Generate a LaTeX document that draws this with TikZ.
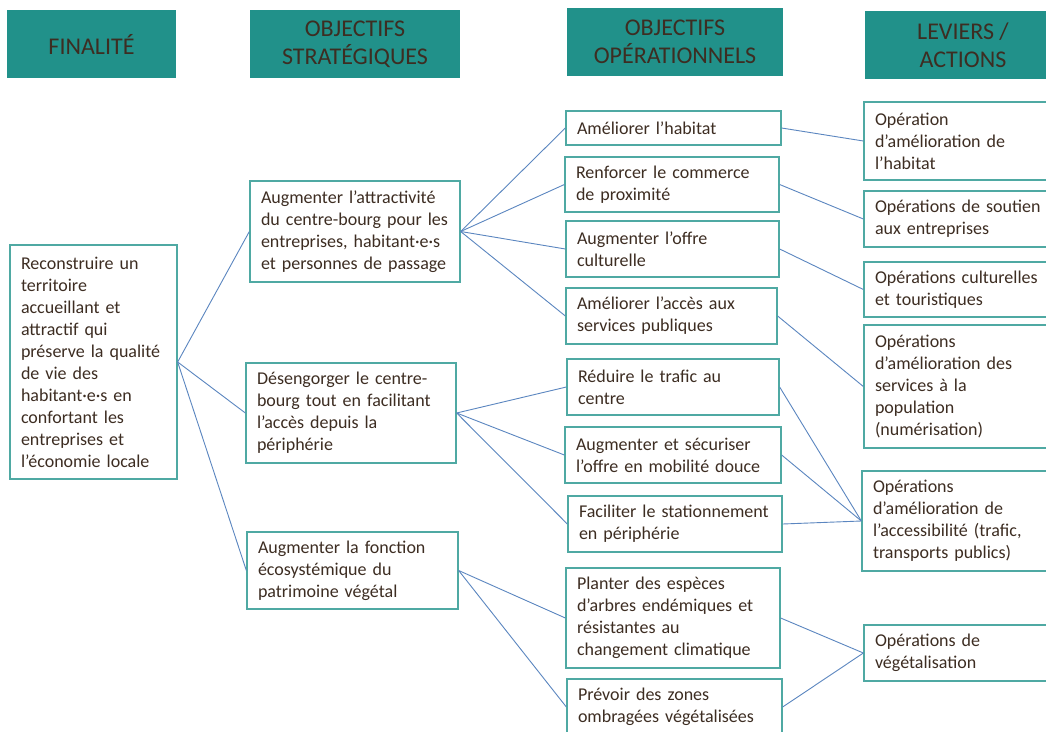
\documentclass[tikz,border=0pt]{standalone}
\usepackage{fontspec}
\setmainfont{Carlito}
\definecolor{headteal}{HTML}{21918A}
\definecolor{boxteal}{HTML}{4FA9A3}
\definecolor{linkblue}{HTML}{5B86C0}
\definecolor{txtbrown}{HTML}{3D2D22}
\begin{document}
\begin{tikzpicture}[x=1pt,y=-1pt,
head/.style={fill=headteal,text=txtbrown,align=center,inner sep=0pt,
  font=\fontsize{24}{28}\selectfont},
item/.style={draw=boxteal,line width=1.3pt,fill=white,text=txtbrown,align=left,
  inner xsep=11pt,inner ysep=0pt,font=\fontsize{18}{22}\selectfont},
link/.style={draw=linkblue,line width=0.9pt}]
\path[use as bounding box,fill=white] (0,0) rectangle (1046,731);

% column headers
\node[head,minimum width=169pt,minimum height=68pt] (hfin) at (91.5,44) {FINALITÉ};
\node[head,minimum width=210pt,minimum height=68pt] (hstrat) at (355,44) {OBJECTIFS\\STRATÉGIQUES};
\node[head,minimum width=216pt,minimum height=68pt] (hop) at (675,42) {OBJECTIFS\\OPÉRATIONNELS};
\node[head,minimum width=196pt,minimum height=68pt] (hlev) at (963,45) {LEVIERS /\\ACTIONS};

% finalite
\node[item,text width=145pt,minimum height=234pt] (fin) at (93.5,362)
{Reconstruire un\\territoire\\accueillant et\\attractif qui\\préserve la qualité\\de vie des\\habitant·e·s en\\confortant les\\entreprises et\\l’économie locale};

% objectifs strategiques
\node[item,text width=188pt,minimum height=101pt] (s1) at (355,231.5)
{Augmenter l’attractivité\\du centre-bourg pour les\\entreprises, habitant·e·s\\et personnes de passage};
\node[item,text width=188pt,minimum height=100pt] (s2) at (351,413)
{Désengorger le centre-\\bourg tout en facilitant\\l’accès depuis la\\périphérie};
\node[item,text width=189pt,minimum height=77pt] (s3) at (352.5,570.5)
{Augmenter la fonction\\écosystémique du\\patrimoine végétal};

% objectifs operationnels
\node[item,text width=193pt,minimum height=34pt] (o1) at (673.5,128) {Améliorer l’habitat};
\node[item,text width=192pt,minimum height=55pt] (o2) at (672,184.5) {Renforcer le commerce\\de proximité};
\node[item,text width=191pt,minimum height=56pt] (o3) at (672.5,249) {Augmenter l’offre\\culturelle};
\node[item,text width=189pt,minimum height=56pt] (o4) at (671.5,316) {Améliorer l’accès aux\\services publiques};
\node[item,text width=190pt,minimum height=56pt] (o5) at (673,387) {Réduire le trafic au\\centre};
\node[item,text width=194pt,minimum height=56pt] (o6) at (673,455) {Augmenter et sécuriser\\l’offre en mobilité douce};
\node[item,text width=192pt,minimum height=56pt] (o7) at (675,524) {Faciliter le stationnement\\en périphérie};
\node[item,text width=192pt,minimum height=100pt] (o8) at (673,618)
{Planter des espèces\\d’arbres endémiques et\\résistantes au\\changement climatique};
\node[item,text width=193pt,minimum height=56pt] (o9) at (674.5,707) {Prévoir des zones\\ombragées végétalisées};

% leviers / actions
\node[item,text width=174pt,minimum height=78pt] (l1) at (962,141) {Opération\\d’amélioration de\\l’habitat};
\node[item,text width=174pt,minimum height=56pt] (l2) at (962,219) {Opérations de soutien\\aux entreprises};
\node[item,text width=174pt,minimum height=55pt] (l3) at (962,289.5) {Opérations culturelles\\et touristiques};
\node[item,text width=174pt,minimum height=123pt] (l4) at (962,386.5)
{Opérations\\d’amélioration des\\services à la\\population\\(numérisation)};
\node[item,text width=174pt,minimum height=100pt] (l5) at (960,521)
{Opérations\\d’amélioration de\\l’accessibilité (trafic,\\transports publics)};
\node[item,text width=174pt,minimum height=56pt] (l6) at (962,653) {Opérations de\\végétalisation};

% connectors
\foreach \s in {s1,s2,s3}
  \draw[link] (fin.east) -- (\s.west);
\foreach \o in {o1,o2,o3,o4}
  \draw[link] (s1.east) -- (\o.west);
\foreach \o in {o5,o6,o7}
  \draw[link] (s2.east) -- (\o.west);
\foreach \o in {o8,o9}
  \draw[link] (s3.east) -- (\o.west);
\foreach \o/\l in {o1/l1,o2/l2,o3/l3,o4/l4,o5/l5,o6/l5,o7/l5,o8/l6,o9/l6}
  \draw[link] (\o.east) -- (\l.west);

\end{tikzpicture}
\end{document}
